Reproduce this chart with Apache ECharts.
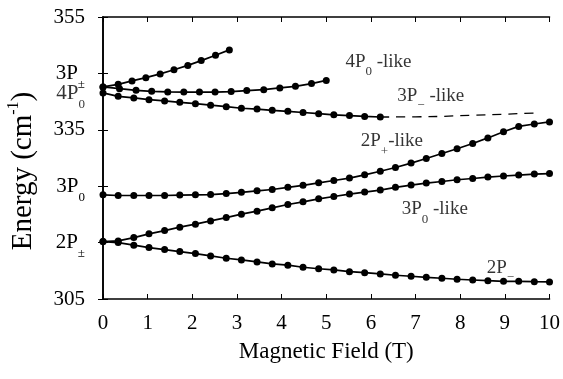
<!DOCTYPE html>
<html>
<head>
<meta charset="utf-8">
<script src="https://cdn.jsdelivr.net/npm/echarts@6/dist/echarts.min.js"></script>
<style>
html, body { margin: 0; padding: 0; background: #fff; }
#main { width: 563px; height: 379px; }
</style>
</head>
<body>
<div id="main"></div>
<script>
// 磁场 (T)
var fieldA = [0, 0.34, 0.69, 1.03, 1.38, 1.72, 2.07, 2.41, 2.76, 3.1, 3.45, 3.79, 4.14, 4.48, 4.83,
              5.17, 5.52, 5.86, 6.21, 6.55, 6.9, 7.24, 7.59, 7.93, 8.28, 8.62, 8.97, 9.31, 9.66, 10];
var fieldTop = [0, 0.34, 0.65, 0.96, 1.28, 1.59, 1.9, 2.2, 2.52, 2.83];
var fieldMid = [0, 0.37, 0.74, 1.09, 1.45, 1.81, 2.16, 2.51, 2.87, 3.22, 3.6, 3.96, 4.31, 4.67, 5.0];

// 能量 (cm-1)
var e2Pminus = [315.18, 315.0, 314.54, 314.11, 313.76, 313.4, 313.05, 312.64, 312.23, 311.93, 311.57, 311.22, 310.99, 310.63, 310.36,
                310.15, 309.85, 309.67, 309.44, 309.21, 309.03, 308.85, 308.68, 308.5, 308.37, 308.25, 308.14, 308.14, 308.07, 308.02];
var e3P0like = [315.18, 315.3, 315.89, 316.55, 317.13, 317.74, 318.27, 318.85, 319.44, 320.04, 320.58, 321.16, 321.75, 322.23, 322.76,
                323.17, 323.6, 323.95, 324.31, 324.8, 325.2, 325.55, 325.83, 326.14, 326.37, 326.62, 326.81, 326.97, 327.15, 327.24];
var e2Pplus = [323.47, 323.35, 323.35, 323.35, 323.35, 323.42, 323.47, 323.51, 323.7, 323.92, 324.18, 324.41, 324.8, 325.16, 325.6,
               326.01, 326.44, 327.02, 327.65, 328.32, 329.1, 329.92, 330.79, 331.64, 332.57, 333.56, 334.66, 335.6, 336.03, 336.39];
var e4P0 = [341.54, 340.93, 340.65, 340.35, 340.12, 339.87, 339.64, 339.37, 339.1, 338.82, 338.68, 338.46, 338.27, 338.07, 337.86,
            337.65, 337.52, 337.38, 337.27];
var eTop = [342.6, 343.06, 343.67, 344.25, 344.91, 345.64, 346.42, 347.27, 348.21, 349.17];
var eMid = [342.6, 342.3, 342.0, 341.82, 341.71, 341.68, 341.68, 341.68, 341.77, 341.95, 342.12, 342.42, 342.71, 343.19, 343.76];
var dashX = [6.21, 7.0, 8.2, 9.7];
var dashY = [337.27, 337.3, 337.55, 337.98];

// y轴刻度标签
var yTickVals = [355, 345, 335, 325, 315, 305];
var yTickText = ['{n|355}', '{n|3P}{s|±}', '{n|335}', '{n|3P}{s|0}', '{n|2P}{s|±}', '{n|305}'];

// 曲线标注
var noteText = ['{n|4P}{s|0}{n| -like}', '{n|3P}{s|−}{n| -like}', '{n|2P}{s|+}{n|-like}', '{n|3P}{s|0}{n| -like}', '{n|2P}{s|−}'];
var noteX = [6.17, 7.34, 6.47, 7.43, 8.9];
var noteY = [347.1, 341.0, 333.0, 320.9, 310.5];

var serif = 'Liberation Serif';
var richAxis = {
    n: { fontFamily: serif, fontSize: 21, color: '#000' },
    s: { fontFamily: serif, fontSize: 13, color: '#000', padding: [22, 0, 0, 0] }
};
var richNote = {
    n: { fontFamily: serif, fontSize: 19, color: '#000' },
    s: { fontFamily: serif, fontSize: 13, color: '#000', padding: [20, 0, 0, 0] }
};

function pairs(xs, ys) {
    var out = [];
    for (var i = 0; i < ys.length; i++) out.push([xs[i], ys[i]]);
    return out;
}

function curve(xs, ys) {
    return {
        type: 'line',
        data: pairs(xs, ys),
        symbol: 'circle',
        symbolSize: 7,
        lineStyle: { color: '#000', width: 1.7 },
        itemStyle: { color: '#000' },
        emphasis: { disabled: true },
        z: 3
    };
}

var noteData = [];
for (var i = 0; i < noteText.length; i++) {
    noteData.push({ value: [noteX[i], noteY[i]], name: noteText[i] });
}
noteData.push({
    value: [0, 341.4],
    name: '{n|4P}{s|0}',
    label: { position: 'left', distance: 18, rich: richAxis }
});

var myChart = echarts.init(document.getElementById('main'));

var axisLine = { lineStyle: { color: '#000', width: 1.6 } };
var tick = { inside: true, length: 5, lineStyle: { color: '#000', width: 1 } };

option = {
    animation: false,
    backgroundColor: '#fff',
    grid: { left: 103, right: 13, top: 17, bottom: 80 },
    xAxis: [
        {
            type: 'value', min: 0, max: 10, interval: 1, position: 'bottom',
            axisLine: axisLine, axisTick: tick, splitLine: { show: false },
            axisLabel: { fontFamily: serif, fontSize: 21, color: '#000', margin: 14 },
            name: 'Magnetic Field (T)', nameLocation: 'middle', nameGap: 41,
            nameTextStyle: { fontFamily: serif, fontSize: 23, color: '#000' }
        },
        {
            type: 'value', min: 0, max: 10, interval: 1, position: 'top',
            axisLine: axisLine, axisTick: tick, splitLine: { show: false },
            axisLabel: { show: false }
        }
    ],
    yAxis: [
        {
            type: 'value', min: 305, max: 355, interval: 10, position: 'left',
            axisLine: { show: true, lineStyle: { color: '#000', width: 1.6 } },
            axisTick: tick, splitLine: { show: false },
            axisLabel: {
                margin: 18,
                rich: richAxis,
                formatter: function (v) {
                    var k = yTickVals.indexOf(Math.round(v));
                    return k >= 0 ? yTickText[k] : '';
                }
            }
        },
        {
            type: 'value', min: 305, max: 355, interval: 10, position: 'right',
            axisLine: { show: true, lineStyle: { color: '#000', width: 1.6 } },
            axisTick: tick, splitLine: { show: false },
            axisLabel: { show: false }
        }
    ],
    graphic: [
        {
            type: 'text', x: 23, y: 171, rotation: Math.PI / 2,
            style: {
                text: '{n|Energy (cm}{p|-1}{n|)}',
                align: 'center', verticalAlign: 'middle',
                rich: {
                    n: { fontFamily: serif, fontSize: 29, fill: '#000' },
                    p: { fontFamily: serif, fontSize: 16, fill: '#000', padding: [0, 0, 18, 0] }
                }
            }
        }
    ],
    series: [
        curve(fieldA, e2Pminus),
        curve(fieldA, e3P0like),
        curve(fieldA, e2Pplus),
        curve(fieldA, e4P0),
        curve(fieldTop, eTop),
        curve(fieldMid, eMid),
        {
            type: 'line',
            data: pairs(dashX, dashY),
            showSymbol: false,
            smooth: true,
            lineStyle: { color: '#000', width: 1.3, type: [9, 7] },
            emphasis: { disabled: true }
        },
        {
            type: 'scatter',
            symbolSize: 0,
            silent: true,
            data: noteData,
            label: {
                show: true,
                position: 'inside',
                formatter: function (p) { return p.name; },
                rich: richNote
            },
            emphasis: { disabled: true },
            z: 5
        }
    ]
};

myChart.setOption(option);
</script>
</body>
</html>
